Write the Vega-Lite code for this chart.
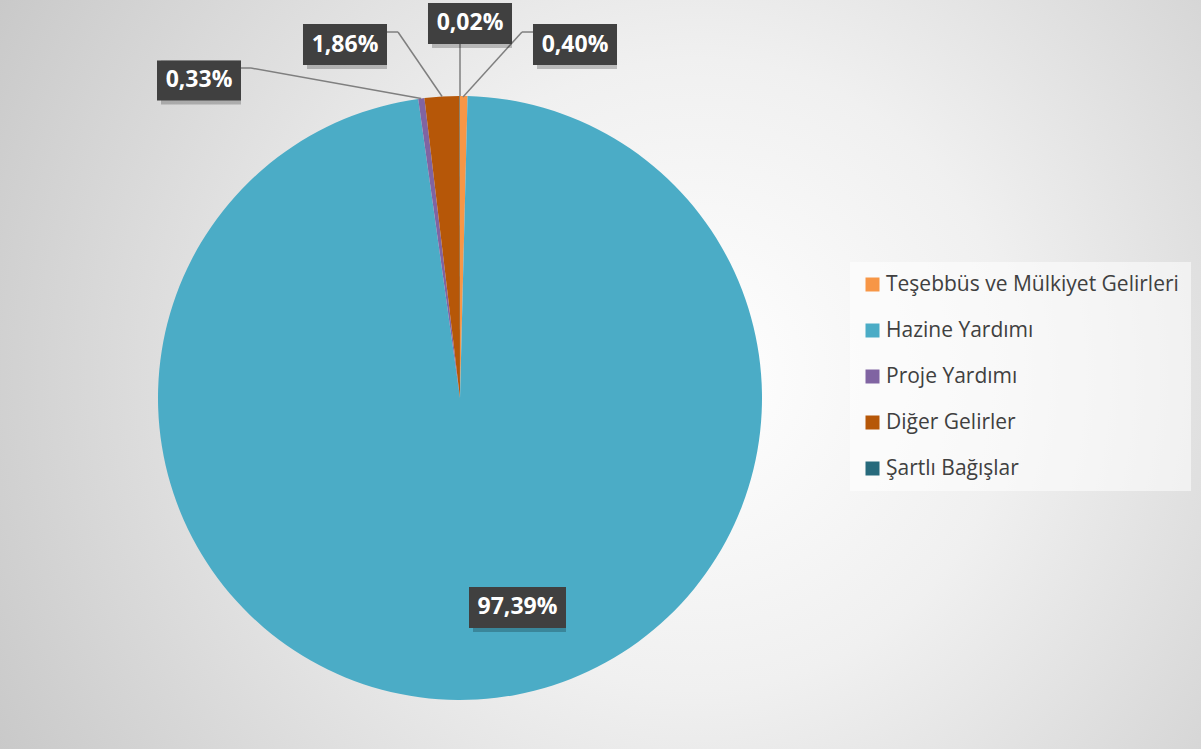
{
  "$schema": "https://vega.github.io/schema/vega-lite/v6.json",
  "width": 1201,
  "height": 749,
  "autosize": {"type": "fit", "contains": "padding"},
  "padding": 0,
  "background": "#c8c8c8",
  "config": {
    "view": {
      "stroke": null,
      "fill": {
        "gradient": "radial",
        "x1": 0.58, "y1": 0.5, "r1": 0,
        "x2": 0.58, "y2": 0.5, "r2": 0.75,
        "stops": [
          {"offset": 0, "color": "#ffffff"},
          {"offset": 0.35, "color": "#f0f0f0"},
          {"offset": 1, "color": "#c0c0c0"}
        ]
      }
    },
    "locale": {"number": {"decimal": ",", "thousands": ".", "grouping": [3], "currency": ["", " ₺"]}},
    "font": "Open Sans"
  },
  "data": {
    "values": [
      {"sira": 1, "kalem": "Teşebbüs ve Mülkiyet Gelirleri", "pay": 0.0040},
      {"sira": 2, "kalem": "Hazine Yardımı", "pay": 0.9739},
      {"sira": 3, "kalem": "Proje Yardımı", "pay": 0.0033},
      {"sira": 4, "kalem": "Diğer Gelirler", "pay": 0.0186},
      {"sira": 5, "kalem": "Şartlı Bağışlar", "pay": 0.0002}
    ]
  },
  "encoding": {
    "x": {"type": "quantitative", "scale": {"domain": [-1.52318, 2.45364], "nice": false, "zero": false}, "axis": null},
    "y": {"type": "quantitative", "scale": {"domain": [-1.16225, 1.31788], "nice": false, "zero": false}, "axis": null}
  },
  "layer": [
    {
      "mark": {"type": "arc", "outerRadius": 302, "stroke": null},
      "encoding": {
        "x": {"datum": 0},
        "y": {"datum": 0},
        "theta": {"field": "pay", "type": "quantitative", "stack": true},
        "order": {"field": "sira", "type": "quantitative"},
        "color": {
          "field": "kalem", "type": "nominal",
          "scale": {
            "domain": ["Teşebbüs ve Mülkiyet Gelirleri", "Hazine Yardımı", "Proje Yardımı", "Diğer Gelirler", "Şartlı Bağışlar"],
            "range": ["#F79646", "#4BACC6", "#8064A2", "#B65708", "#276A7C"]
          },
          "legend": {
            "title": null,
            "orient": "none",
            "legendX": 850,
            "legendY": 262,
            "padding": 12,
            "fillColor": "rgba(255,255,255,0.55)",
            "strokeColor": null,
            "symbolType": "square",
            "symbolSize": 196,
            "symbolStrokeWidth": 0,
            "labelFont": "Open Sans",
            "labelFontSize": 21,
            "labelColor": "#404040",
            "labelOffset": 3,
            "labelLimit": 400,
            "rowPadding": 24
          }
        }
      }
    },
    {
      "transform": [{"filter": "datum.sira == 1"}],
      "layer": [
        {"mark": {"type": "rule", "stroke": "#7f7f7f", "strokeWidth": 1.5},
         "encoding": {"x": {"datum": 0.0099}, "y": {"datum": 0.9967}, "x2": {"datum": 0.2053}, "y2": {"datum": 1.2119}}},
        {"mark": {"type": "rule", "stroke": "#7f7f7f", "strokeWidth": 1.5},
         "encoding": {"x": {"datum": 0.2053}, "y": {"datum": 1.2119}, "x2": {"datum": 0.2417}, "y2": {"datum": 1.2119}}},
        {"mark": {"type": "rect", "fill": "#000000", "opacity": 0.22, "xOffset": 4, "yOffset": 4},
         "encoding": {"x": {"datum": 0.2417}, "x2": {"datum": 0.5199}, "y": {"datum": 1.1027}, "y2": {"datum": 1.2384}}},
        {"mark": {"type": "rect", "fill": "#404040"},
         "encoding": {"x": {"datum": 0.2417}, "x2": {"datum": 0.5199}, "y": {"datum": 1.1027}, "y2": {"datum": 1.2384}}},
        {"mark": {"type": "text", "color": "#ffffff", "fontWeight": "bold", "fontSize": 23, "align": "center", "baseline": "middle"},
         "encoding": {"x": {"datum": 0.3808}, "y": {"datum": 1.1705}, "text": {"field": "pay", "type": "quantitative", "format": ".2%"}}}
      ]
    },
    {
      "transform": [{"filter": "datum.sira == 5"}],
      "layer": [
        {"mark": {"type": "rule", "stroke": "#7f7f7f", "strokeWidth": 1.5},
         "encoding": {"x": {"datum": 0}, "y": {"datum": 1.0}, "x2": {"datum": 0}, "y2": {"datum": 1.1722}}},
        {"mark": {"type": "rect", "fill": "#000000", "opacity": 0.22, "xOffset": 4, "yOffset": 4},
         "encoding": {"x": {"datum": -0.1060}, "x2": {"datum": 0.1722}, "y": {"datum": 1.1722}, "y2": {"datum": 1.3079}}},
        {"mark": {"type": "rect", "fill": "#404040"},
         "encoding": {"x": {"datum": -0.1060}, "x2": {"datum": 0.1722}, "y": {"datum": 1.1722}, "y2": {"datum": 1.3079}}},
        {"mark": {"type": "text", "color": "#ffffff", "fontWeight": "bold", "fontSize": 23, "align": "center", "baseline": "middle"},
         "encoding": {"x": {"datum": 0.0331}, "y": {"datum": 1.2401}, "text": {"field": "pay", "type": "quantitative", "format": ".2%"}}}
      ]
    },
    {
      "transform": [{"filter": "datum.sira == 4"}],
      "layer": [
        {"mark": {"type": "rule", "stroke": "#7f7f7f", "strokeWidth": 1.5},
         "encoding": {"x": {"datum": -0.0593}, "y": {"datum": 0.9983}, "x2": {"datum": -0.2053}, "y2": {"datum": 1.2119}}},
        {"mark": {"type": "rule", "stroke": "#7f7f7f", "strokeWidth": 1.5},
         "encoding": {"x": {"datum": -0.2053}, "y": {"datum": 1.2119}, "x2": {"datum": -0.2417}, "y2": {"datum": 1.2119}}},
        {"mark": {"type": "rect", "fill": "#000000", "opacity": 0.22, "xOffset": 4, "yOffset": 4},
         "encoding": {"x": {"datum": -0.5199}, "x2": {"datum": -0.2417}, "y": {"datum": 1.1027}, "y2": {"datum": 1.2384}}},
        {"mark": {"type": "rect", "fill": "#404040"},
         "encoding": {"x": {"datum": -0.5199}, "x2": {"datum": -0.2417}, "y": {"datum": 1.1027}, "y2": {"datum": 1.2384}}},
        {"mark": {"type": "text", "color": "#ffffff", "fontWeight": "bold", "fontSize": 23, "align": "center", "baseline": "middle"},
         "encoding": {"x": {"datum": -0.3808}, "y": {"datum": 1.1705}, "text": {"field": "pay", "type": "quantitative", "format": ".2%"}}}
      ]
    },
    {
      "transform": [{"filter": "datum.sira == 3"}],
      "layer": [
        {"mark": {"type": "rule", "stroke": "#7f7f7f", "strokeWidth": 1.5},
         "encoding": {"x": {"datum": -0.1288}, "y": {"datum": 0.9917}, "x2": {"datum": -0.6921}, "y2": {"datum": 1.0927}}},
        {"mark": {"type": "rule", "stroke": "#7f7f7f", "strokeWidth": 1.5},
         "encoding": {"x": {"datum": -0.6921}, "y": {"datum": 1.0927}, "x2": {"datum": -0.7252}, "y2": {"datum": 1.0927}}},
        {"mark": {"type": "rect", "fill": "#000000", "opacity": 0.22, "xOffset": 4, "yOffset": 4},
         "encoding": {"x": {"datum": -1.0033}, "x2": {"datum": -0.7252}, "y": {"datum": 0.9851}, "y2": {"datum": 1.1175}}},
        {"mark": {"type": "rect", "fill": "#404040"},
         "encoding": {"x": {"datum": -1.0033}, "x2": {"datum": -0.7252}, "y": {"datum": 0.9851}, "y2": {"datum": 1.1175}}},
        {"mark": {"type": "text", "color": "#ffffff", "fontWeight": "bold", "fontSize": 23, "align": "center", "baseline": "middle"},
         "encoding": {"x": {"datum": -0.8642}, "y": {"datum": 1.0530}, "text": {"field": "pay", "type": "quantitative", "format": ".2%"}}}
      ]
    },
    {
      "transform": [{"filter": "datum.sira == 2"}],
      "layer": [
        {"mark": {"type": "rect", "fill": "#000000", "opacity": 0.22, "xOffset": 4, "yOffset": 4},
         "encoding": {"x": {"datum": 0.0298}, "x2": {"datum": 0.3510}, "y": {"datum": -0.7616}, "y2": {"datum": -0.6258}}},
        {"mark": {"type": "rect", "fill": "#404040"},
         "encoding": {"x": {"datum": 0.0298}, "x2": {"datum": 0.3510}, "y": {"datum": -0.7616}, "y2": {"datum": -0.6258}}},
        {"mark": {"type": "text", "color": "#ffffff", "fontWeight": "bold", "fontSize": 23, "align": "center", "baseline": "middle"},
         "encoding": {"x": {"datum": 0.1904}, "y": {"datum": -0.6937}, "text": {"field": "pay", "type": "quantitative", "format": ".2%"}}}
      ]
    }
  ]
}
